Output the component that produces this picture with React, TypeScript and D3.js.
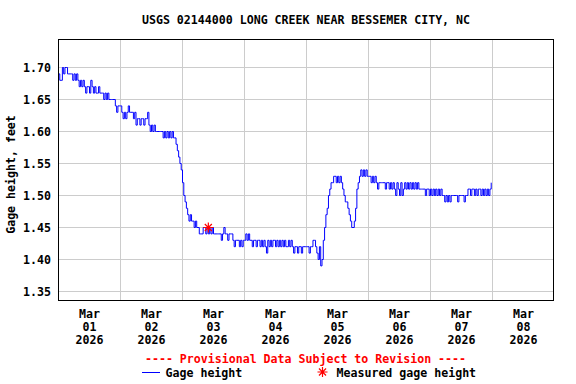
import React from "react";
import * as d3 from "d3";

const chartTitle = "USGS 02144000 LONG CREEK NEAR BESSEMER CITY, NC";
const yAxisTitle = "Gage height, feet";
const provisionalNote = "---- Provisional Data Subject to Revision ----";
const legendLabels = ["Gage height", "Measured gage height"];

const yTicks = [1.35, 1.4, 1.45, 1.5, 1.55, 1.6, 1.65, 1.7];
const dayLabels = [
  ["Mar", "01", "2026"],
  ["Mar", "02", "2026"],
  ["Mar", "03", "2026"],
  ["Mar", "04", "2026"],
  ["Mar", "05", "2026"],
  ["Mar", "06", "2026"],
  ["Mar", "07", "2026"],
  ["Mar", "08", "2026"],
];

// 30-minute gage height readings, starting 2026-03-01 00:00
const seriesStart = new Date(2026, 2, 1, 0, 0);
const stepMinutes = 30;
const day1 = [
  1.69, 1.68, 1.68, 1.70, 1.69, 1.70, 1.70, 1.69, 1.69, 1.69, 1.69, 1.68,
  1.69, 1.68, 1.69, 1.68, 1.67, 1.68, 1.67, 1.68, 1.67, 1.66, 1.67, 1.67,
  1.66, 1.68, 1.67, 1.66, 1.67, 1.66, 1.66, 1.67, 1.66, 1.66, 1.66, 1.65,
  1.66, 1.65, 1.66, 1.65, 1.65, 1.65, 1.65, 1.65, 1.64, 1.63, 1.64, 1.64,
];
const day2 = [
  1.64, 1.63, 1.62, 1.63, 1.62, 1.63, 1.64, 1.63, 1.63, 1.63, 1.62, 1.63,
  1.61, 1.62, 1.62, 1.61, 1.62, 1.62, 1.61, 1.62, 1.62, 1.63, 1.61, 1.60,
  1.61, 1.60, 1.61, 1.60, 1.60, 1.60, 1.60, 1.60, 1.60, 1.59, 1.60, 1.59,
  1.60, 1.59, 1.60, 1.59, 1.60, 1.59, 1.59, 1.58, 1.57, 1.56, 1.55, 1.54,
];
const day3 = [
  1.52, 1.50, 1.49, 1.48, 1.47, 1.46, 1.47, 1.46, 1.46, 1.45, 1.46, 1.45,
  1.45, 1.44, 1.44, 1.44, 1.45, 1.45, 1.44, 1.45, 1.44, 1.45, 1.44, 1.45,
  1.44, 1.44, 1.44, 1.44, 1.44, 1.44, 1.43, 1.44, 1.45, 1.44, 1.44, 1.43,
  1.44, 1.44, 1.44, 1.43, 1.42, 1.43, 1.43, 1.43, 1.42, 1.43, 1.42, 1.43,
];
const day4 = [
  1.43, 1.44, 1.43, 1.44, 1.43, 1.43, 1.42, 1.43, 1.43, 1.42, 1.43, 1.43,
  1.42, 1.43, 1.42, 1.43, 1.42, 1.41, 1.43, 1.42, 1.43, 1.42, 1.43, 1.43,
  1.42, 1.43, 1.42, 1.43, 1.42, 1.43, 1.42, 1.43, 1.42, 1.42, 1.43, 1.42,
  1.43, 1.42, 1.41, 1.42, 1.42, 1.41, 1.42, 1.42, 1.41, 1.42, 1.42, 1.42,
];
const day5 = [
  1.42, 1.42, 1.41, 1.42, 1.42, 1.43, 1.43, 1.42, 1.41, 1.40, 1.42, 1.39,
  1.40, 1.43, 1.45, 1.47, 1.48, 1.50, 1.51, 1.52, 1.52, 1.53, 1.53, 1.52,
  1.53, 1.52, 1.53, 1.52, 1.51, 1.50, 1.49, 1.49, 1.48, 1.47, 1.46, 1.45,
  1.45, 1.46, 1.48, 1.51, 1.52, 1.53, 1.54, 1.53, 1.54, 1.53, 1.54, 1.53,
];
const day6 = [
  1.53, 1.53, 1.52, 1.53, 1.52, 1.53, 1.52, 1.51, 1.52, 1.52, 1.52, 1.52,
  1.52, 1.51, 1.52, 1.52, 1.51, 1.52, 1.51, 1.52, 1.51, 1.50, 1.52, 1.51,
  1.50, 1.52, 1.50, 1.51, 1.52, 1.51, 1.52, 1.51, 1.52, 1.51, 1.52, 1.51,
  1.52, 1.51, 1.52, 1.51, 1.51, 1.51, 1.51, 1.51, 1.50, 1.51, 1.51, 1.50,
];
const day7 = [
  1.51, 1.50, 1.51, 1.50, 1.51, 1.50, 1.51, 1.50, 1.51, 1.50, 1.50, 1.49,
  1.50, 1.49, 1.50, 1.49, 1.50, 1.50, 1.50, 1.50, 1.50, 1.49, 1.50, 1.50,
  1.50, 1.50, 1.49, 1.50, 1.50, 1.51, 1.51, 1.50, 1.51, 1.51, 1.50, 1.51,
  1.50, 1.51, 1.51, 1.50, 1.51, 1.50, 1.51, 1.50, 1.51, 1.50, 1.51, 1.52,
];
const gageValues = [...day1, ...day2, ...day3, ...day4, ...day5, ...day6, ...day7];

const measuredTimes = [new Date(2026, 2, 3, 10, 0)];
const measuredValues = [1.45];

const FONT = "'DejaVu Sans Mono', 'Liberation Mono', monospace";

function Asterisk({ cx, cy, r }: { cx: number; cy: number; r: number }) {
  const d = [0, 45, 90, 135]
    .map((a) => {
      const rad = (a * Math.PI) / 180;
      const dx = Math.cos(rad) * r;
      const dy = Math.sin(rad) * r;
      return `M${cx - dx},${cy - dy}L${cx + dx},${cy + dy}`;
    })
    .join("");
  return <path d={d} stroke="#ff0000" strokeWidth={1.2} fill="none" />;
}

export default function App() {
  const W = 576;
  const H = 384;
  const left = 58.5;
  const right = 553.5;
  const top = 39.5;
  const bottom = 300.5;

  const x = d3
    .scaleTime()
    .domain([new Date(2026, 2, 1), new Date(2026, 2, 9)])
    .range([58.5, 554.5]);
  const y = d3.scaleLinear().domain([1.35, 1.7]).range([291.5, 67.5]);

  const points = gageValues.map((v, i) => ({
    t: new Date(seriesStart.getTime() + i * stepMinutes * 60000),
    v,
  }));
  const line = d3
    .line<{ t: Date; v: number }>()
    .x((d) => x(d.t))
    .y((d) => y(d.v))
    .curve(d3.curveStepAfter);

  const dayTicks = d3.timeDay.range(new Date(2026, 2, 2), new Date(2026, 2, 9));

  return (
    <svg
      width={W}
      height={H}
      style={{ position: "absolute", left: 0, top: 0, background: "#fff" }}
    >
      <rect x={0} y={0} width={W} height={H} fill="#fff" />
      <text
        x={306}
        y={23.5}
        textAnchor="middle"
        fontFamily={FONT}
        fontWeight="bold"
        fontSize={11.6}
        fill="#000"
      >
        {chartTitle}
      </text>

      {/* grid */}
      {yTicks.map((t) => (
        <line
          key={"hy" + t}
          x1={left}
          x2={right}
          y1={y(t)}
          y2={y(t)}
          stroke="#cccccc"
          strokeWidth={1}
        />
      ))}
      {dayTicks.map((d) => (
        <line
          key={"vx" + d.getTime()}
          x1={x(d)}
          x2={x(d)}
          y1={top}
          y2={bottom}
          stroke="#cccccc"
          strokeWidth={1}
        />
      ))}

      {/* data */}
      <path d={line(points) || ""} fill="none" stroke="#0000ff" strokeWidth={1} />
      {measuredTimes.map((t, i) => (
        <Asterisk key={i} cx={x(t)} cy={y(measuredValues[i])} r={5} />
      ))}

      {/* frame */}
      <rect
        x={left}
        y={top}
        width={right - left}
        height={bottom - top}
        fill="none"
        stroke="#000"
        strokeWidth={1}
      />

      {/* y tick labels */}
      {yTicks.map((t) => (
        <text
          key={"ty" + t}
          x={51}
          y={y(t) + 4}
          textAnchor="end"
          fontFamily={FONT}
          fontWeight="bold"
          fontSize={11.6}
          fill="#000"
        >
          {t.toFixed(2)}
        </text>
      ))}
      <text
        transform={`translate(15, 174.5) rotate(-90)`}
        textAnchor="middle"
        fontFamily={FONT}
        fontWeight="bold"
        fontSize={11.6}
        fill="#000"
      >
        {yAxisTitle}
      </text>

      {/* x labels */}
      {dayLabels.map((lines, i) => {
        const cx = x(d3.timeHour.offset(new Date(2026, 2, 1 + i), 12));
        return lines.map((s, j) => (
          <text
            key={`xl${i}-${j}`}
            x={cx}
            y={318 + j * 13}
            textAnchor="middle"
            fontFamily={FONT}
            fontWeight="bold"
            fontSize={11.6}
            fill="#000"
          >
            {s}
          </text>
        ));
      })}

      <text
        x={305.5}
        y={363}
        textAnchor="middle"
        fontFamily={FONT}
        fontWeight="bold"
        fontSize={11.6}
        fill="#ff0000"
      >
        {provisionalNote}
      </text>

      {/* legend */}
      <line x1={142} x2={160} y1={372.5} y2={372.5} stroke="#0000ff" strokeWidth={1} />
      <text
        x={165.5}
        y={377}
        fontFamily={FONT}
        fontWeight="bold"
        fontSize={11.6}
        fill="#000"
      >
        {legendLabels[0]}
      </text>
      <Asterisk cx={322.5} cy={372} r={5} />
      <text
        x={336.5}
        y={377}
        fontFamily={FONT}
        fontWeight="bold"
        fontSize={11.6}
        fill="#000"
      >
        {legendLabels[1]}
      </text>
    </svg>
  );
}
